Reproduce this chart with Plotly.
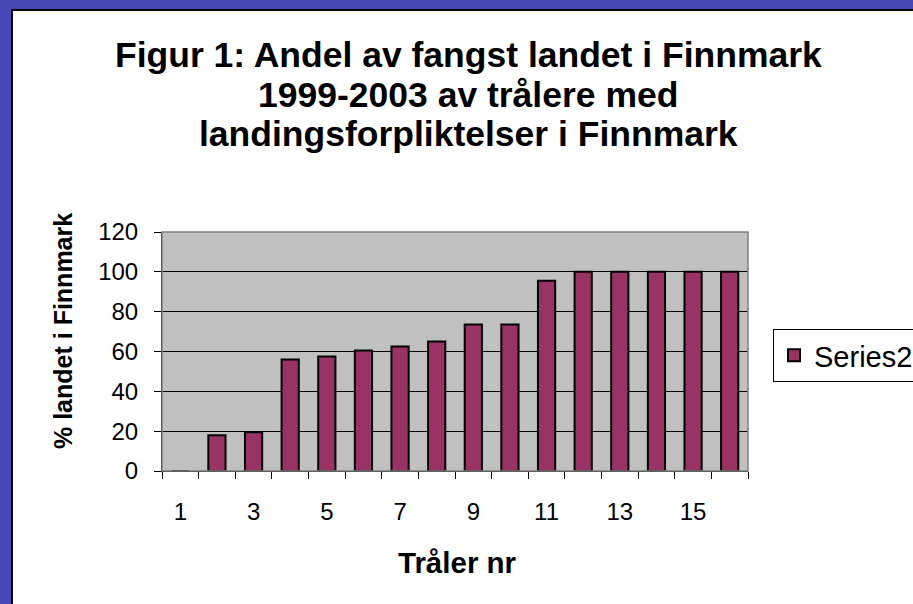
import plotly.graph_objects as go

# --- Data ---
traler_nr = [1, 2, 3, 4, 5, 6, 7, 8, 9, 10, 11, 12, 13, 14, 15, 16]
andel_finnmark = [0, 18, 19.5, 56, 57.5, 60.5, 62.5, 65, 73.5, 73.5, 95.5, 100, 100, 100, 100, 100]
x_tick_vals = [1, 3, 5, 7, 9, 11, 13, 15]
y_tick_vals = [0, 20, 40, 60, 80, 100, 120]

title_lines = [
    "Figur 1: Andel av fangst landet i Finnmark",
    "1999-2003 av trålere med",
    "landingsforpliktelser i Finnmark",
]

FONT = "Liberation Sans, Arial, sans-serif"

# --- Layout geometry (pixels) ---
W, H = 913, 604
L, R, T, B = 162, 165, 232, 133
PW, PH = W - L - R, H - T - B


def px_x(x):
    return (x - L) / PW


def px_y(y):
    return (H - B - y) / PH


bars = go.Bar(
    x=traler_nr,
    y=andel_finnmark,
    name="Series2",
    width=0.47,
    marker=dict(color="#993366", line=dict(color="black", width=2)),
)

fig = go.Figure(data=[bars])

shapes = [
    # white chart area on the blue slide
    dict(type="rect", xref="paper", yref="paper", layer="below",
         x0=px_x(12), x1=px_x(930), y0=px_y(620), y1=px_y(10),
         fillcolor="white", line=dict(color="black", width=2)),
    # grey plot area
    dict(type="rect", xref="x domain", yref="y domain", layer="below",
         x0=0, x1=1, y0=0, y1=1, fillcolor="#C0C0C0", line=dict(width=0)),
    # plot area border
    dict(type="rect", xref="x domain", yref="y domain", layer="above",
         x0=0, x1=1, y0=0, y1=1, fillcolor="rgba(0,0,0,0)",
         line=dict(color="#808080", width=1.5)),
]

annotations = []
for line, cy in zip(title_lines, [55, 95, 134]):
    annotations.append(dict(
        text=f"<b>{line}</b>", xref="paper", yref="paper",
        x=px_x(468), y=px_y(cy), xanchor="center", yanchor="middle",
        showarrow=False, font=dict(family=FONT, size=35.5, color="black"),
    ))
annotations.append(dict(
    text="<b>% landet i Finnmark</b>", xref="paper", yref="paper",
    x=px_x(63), y=px_y(331), xanchor="center", yanchor="middle",
    textangle=-90, showarrow=False,
    font=dict(family=FONT, size=25, color="black"),
))
annotations.append(dict(
    text="<b>Tråler nr</b>", xref="paper", yref="paper",
    x=px_x(457), y=px_y(562), xanchor="center", yanchor="middle",
    showarrow=False, font=dict(family=FONT, size=29.5, color="black"),
))

fig.update_layout(
    width=W,
    height=H,
    margin=dict(l=L, r=R, t=T, b=B, pad=0),
    paper_bgcolor="#4848b8",
    plot_bgcolor="rgba(0,0,0,0)",
    font=dict(family=FONT, color="black"),
    shapes=shapes,
    annotations=annotations,
    showlegend=True,
    # container-referenced so the legend does not push the right margin
    legend=dict(
        xref="container", yref="container",
        x=773 / W, y=1 - 329 / H, xanchor="left", yanchor="top",
        bgcolor="white", bordercolor="black", borderwidth=1,
        font=dict(family=FONT, size=29, color="black"),
    ),
    xaxis=dict(
        range=[0.5, 16.5],
        tickmode="array",
        tickvals=x_tick_vals,
        ticks="outside",
        ticklen=19,
        tickcolor="rgba(0,0,0,0)",
        tickfont=dict(family=FONT, size=24, color="black"),
        showgrid=False,
        zeroline=False,
        showline=True,
        linecolor="black",
        linewidth=1,
        minor=dict(ticks="outside", tickmode="linear", tick0=0.5, dtick=1,
                   ticklen=7, tickcolor="black", tickwidth=1, showgrid=False),
    ),
    yaxis=dict(
        range=[0, 120],
        tickmode="array",
        tickvals=y_tick_vals,
        ticks="outside",
        ticklen=7,
        tickcolor="black",
        ticklabelstandoff=11,
        tickfont=dict(family=FONT, size=24, color="black"),
        showgrid=True,
        gridcolor="black",
        gridwidth=1,
        zeroline=False,
        showline=True,
        linecolor="black",
        linewidth=1,
    ),
)

# the page body has a default margin; drop it so the figure fills the window
fig.write_html(
    "out.html",
    config={"displayModeBar": False},
    post_script="document.body.style.margin='0';",
)
